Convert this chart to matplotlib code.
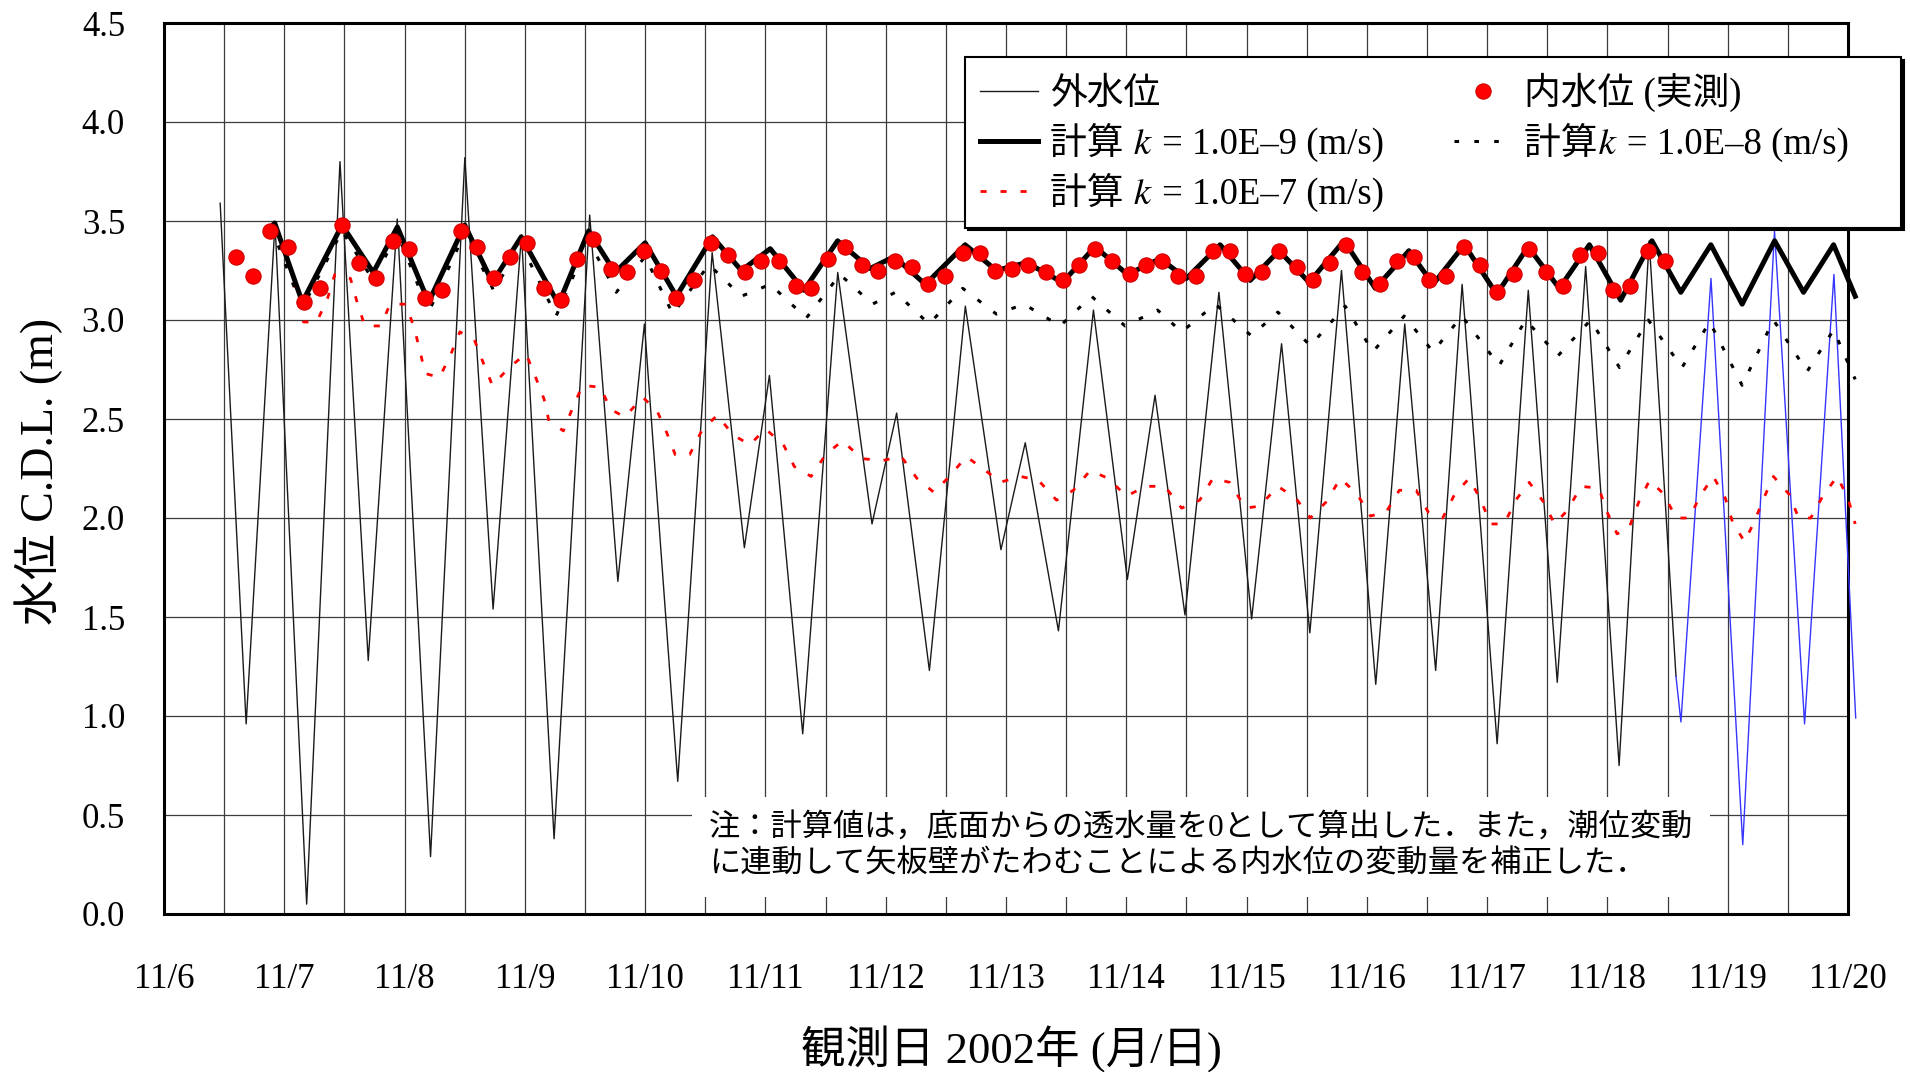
import matplotlib
matplotlib.use('Agg')
import matplotlib.pyplot as plt
import numpy as np

# 外水位 (tide outside the wall), extremes
tide_day = [6.467, 6.683, 6.923, 7.186, 7.463, 7.698, 7.939, 8.216, 8.501, 8.736,
            8.972, 9.243, 9.539, 9.773, 9.994, 10.271, 10.557, 10.825, 11.033, 11.310,
            11.601, 11.886, 12.091, 12.363, 12.662, 12.958, 13.16, 13.436, 13.727, 14.009,
            14.239, 14.488, 14.770, 15.042, 15.291, 15.526, 15.789, 16.074, 16.315, 16.572,
            16.792, 17.083, 17.342, 17.583, 17.819, 18.097, 18.347, 18.57]
tide_lv = [3.59, 0.96, 3.49, 0.05, 3.80, 1.28, 3.51, 0.29, 3.82, 1.54,
           3.43, 0.38, 3.53, 1.68, 2.98, 0.67, 3.34, 1.85, 2.72, 0.91,
           3.24, 1.97, 2.53, 1.23, 3.07, 1.84, 2.38, 1.43, 3.05, 1.69,
           2.62, 1.51, 3.14, 1.49, 2.88, 1.42, 3.25, 1.16, 2.98, 1.23,
           3.18, 0.86, 3.15, 1.17, 3.27, 0.75, 3.40, 1.20]

# last part of the tide record (drawn in blue)
tide2_day = [18.57, 18.611, 18.861, 19.125, 19.389, 19.639, 19.883, 20.064]
tide2_lv = [1.20, 0.97, 3.21, 0.35, 3.45, 0.96, 3.23, 0.99]

# 内水位 (実測)
obs_day = [6.60, 6.74, 6.88, 7.03, 7.16, 7.30, 7.48, 7.62, 7.76, 7.90,
           8.04, 8.17, 8.31, 8.47, 8.60, 8.74, 8.88, 9.02, 9.16, 9.30,
           9.43, 9.57, 9.72, 9.85, 9.99, 10.13, 10.26, 10.41, 10.55, 10.69,
           10.83, 10.96, 11.11, 11.25, 11.38, 11.52, 11.66, 11.80, 11.94, 12.08,
           12.22, 12.35, 12.49, 12.64, 12.78, 12.91, 13.05, 13.18, 13.33, 13.47,
           13.61, 13.74, 13.88, 14.03, 14.16, 14.30, 14.43, 14.58, 14.72, 14.86,
           14.99, 15.13, 15.27, 15.42, 15.55, 15.69, 15.83, 15.96, 16.11, 16.25,
           16.39, 16.52, 16.66, 16.81, 16.94, 17.08, 17.22, 17.35, 17.49, 17.63,
           17.77, 17.92, 18.05, 18.19, 18.34, 18.48]
obs_lv = [3.32, 3.22, 3.45, 3.37, 3.09, 3.16, 3.48, 3.29, 3.21, 3.40,
          3.36, 3.11, 3.15, 3.45, 3.37, 3.21, 3.32, 3.39, 3.16, 3.10,
          3.31, 3.41, 3.26, 3.24, 3.35, 3.25, 3.11, 3.20, 3.39, 3.33,
          3.24, 3.30, 3.30, 3.17, 3.16, 3.31, 3.37, 3.28, 3.25, 3.30,
          3.27, 3.18, 3.22, 3.34, 3.34, 3.25, 3.26, 3.28, 3.24, 3.20,
          3.28, 3.36, 3.30, 3.23, 3.28, 3.30, 3.22, 3.22, 3.35, 3.35,
          3.23, 3.24, 3.35, 3.27, 3.20, 3.29, 3.38, 3.24, 3.18, 3.30,
          3.32, 3.20, 3.22, 3.37, 3.28, 3.14, 3.23, 3.36, 3.24, 3.17,
          3.33, 3.34, 3.15, 3.17, 3.35, 3.30]

# 計算 k = 1.0E-9
calc9_day = [6.89, 6.92, 7.15, 7.48, 7.74, 7.94, 8.20, 8.50, 8.73, 8.97,
             9.28, 9.53, 9.75, 10.00, 10.26, 10.56, 10.80, 11.04, 11.32, 11.60,
             11.87, 12.07, 12.33, 12.66, 12.92, 13.17, 13.47, 13.74, 14.01, 14.28,
             14.50, 14.78, 15.03, 15.27, 15.52, 15.81, 16.07, 16.35, 16.55, 16.81,
             17.08, 17.34, 17.60, 17.85, 18.11, 18.37, 18.61, 18.86, 19.12, 19.39,
             19.63, 19.88, 20.06]
calc9_lv = [3.47, 3.49, 3.09, 3.48, 3.24, 3.47, 3.09, 3.48, 3.19, 3.42,
            3.08, 3.45, 3.24, 3.39, 3.12, 3.42, 3.25, 3.36, 3.15, 3.40,
            3.26, 3.32, 3.18, 3.38, 3.25, 3.29, 3.19, 3.37, 3.23, 3.31,
            3.21, 3.38, 3.20, 3.35, 3.19, 3.40, 3.16, 3.35, 3.18, 3.38,
            3.13, 3.37, 3.16, 3.38, 3.10, 3.40, 3.14, 3.38, 3.08, 3.40,
            3.14, 3.38, 3.12]

# 計算 k = 1.0E-8
calc8_day = [6.89, 7.15, 7.48, 7.74, 7.94, 8.20, 8.50, 8.74, 8.97, 9.26,
             9.53, 9.76, 10.00, 10.23, 10.53, 10.80, 11.04, 11.34, 11.62, 11.89,
             12.08, 12.36, 12.64, 12.92, 13.15, 13.45, 13.71, 13.99, 14.26, 14.46,
             14.74, 15.04, 15.26, 15.53, 15.82, 16.05, 16.31, 16.55, 16.79, 17.10,
             17.32, 17.59, 17.86, 18.10, 18.34, 18.62, 18.85, 19.12, 19.38, 19.66,
             19.88, 20.06]
calc8_lv = [3.47, 3.06, 3.45, 3.20, 3.44, 3.04, 3.44, 3.15, 3.38, 3.02,
            3.40, 3.14, 3.32, 3.03, 3.28, 3.12, 3.18, 3.01, 3.23, 3.08,
            3.14, 2.98, 3.16, 3.03, 3.08, 2.97, 3.12, 2.97, 3.05, 2.94,
            3.08, 2.92, 3.04, 2.87, 3.07, 2.84, 3.02, 2.84, 3.02, 2.77,
            3.00, 2.82, 3.00, 2.76, 3.00, 2.76, 2.99, 2.67, 3.00, 2.74,
            2.95, 2.70]

# 計算 k = 1.0E-7
calc7_day = [6.89, 7.07, 7.10, 7.16, 7.27, 7.36, 7.42, 7.55, 7.61, 7.67,
             7.80, 7.88, 8.01, 8.08, 8.13, 8.17, 8.29, 8.38, 8.46, 8.58,
             8.65, 8.73, 8.87, 9.01, 9.09, 9.16, 9.20, 9.32, 9.40, 9.48,
             9.63, 9.71, 9.83, 9.98, 10.10, 10.18, 10.25, 10.37, 10.47, 10.60,
             10.73, 10.87, 11.00, 11.15, 11.24, 11.38, 11.50, 11.64, 11.80, 11.97,
             12.13, 12.26, 12.40, 12.53, 12.67, 12.83, 12.95, 13.12, 13.27, 13.42,
             13.56, 13.70, 13.85, 14.00, 14.16, 14.32, 14.46, 14.61, 14.72, 14.86,
             14.99, 15.11, 15.26, 15.41, 15.53, 15.66, 15.78, 15.92, 16.03, 16.16,
             16.27, 16.41, 16.51, 16.63, 16.73, 16.85, 16.94, 17.03, 17.14, 17.25,
             17.35, 17.47, 17.56, 17.67, 17.78, 17.93, 17.99, 18.08, 18.18, 18.26,
             18.35, 18.47, 18.57, 18.68, 18.77, 18.88, 18.98, 19.04, 19.14, 19.22,
             19.30, 19.38, 19.51, 19.59, 19.69, 19.79, 19.91, 20.00, 20.06]
calc7_lv = [3.47, 3.24, 3.12, 2.99, 2.99, 3.11, 3.23, 3.21, 3.08, 2.97,
            2.97, 3.08, 3.08, 2.96, 2.84, 2.73, 2.71, 2.82, 2.94, 2.90,
            2.79, 2.67, 2.76, 2.83, 2.71, 2.60, 2.49, 2.44, 2.56, 2.67,
            2.66, 2.55, 2.51, 2.61, 2.54, 2.43, 2.32, 2.32, 2.44, 2.52,
            2.42, 2.37, 2.45, 2.37, 2.26, 2.21, 2.32, 2.39, 2.30, 2.29,
            2.31, 2.20, 2.13, 2.21, 2.31, 2.24, 2.18, 2.21, 2.19, 2.09,
            2.14, 2.24, 2.20, 2.11, 2.16, 2.16, 2.05, 2.09, 2.20, 2.18,
            2.05, 2.06, 2.16, 2.10, 2.00, 2.08, 2.20, 2.12, 2.01, 2.03,
            2.14, 2.14, 2.03, 2.00, 2.12, 2.20, 2.10, 1.97, 1.97, 2.10,
            2.18, 2.08, 1.97, 2.04, 2.16, 2.15, 2.04, 1.92, 1.95, 2.08,
            2.19, 2.12, 2.00, 2.00, 2.11, 2.21, 2.10, 1.98, 1.88, 1.98,
            2.10, 2.21, 2.12, 2.00, 2.00, 2.11, 2.21, 2.10, 1.97]

day_ticks = list(range(6, 21))
day_labels = ['11/%d' % d for d in day_ticks]
lv_ticks = [0.0, 0.5, 1.0, 1.5, 2.0, 2.5, 3.0, 3.5, 4.0, 4.5]

# italic k as the Unicode mathematical italic letter, so that the CJK fallback still works
k_it = '\U0001D458'
series_labels = ['外水位', '計算 ' + k_it + ' = 1.0E–9 (m/s)', '計算 ' + k_it + ' = 1.0E–7 (m/s)',
                 '内水位 (実測)', '計算' + k_it + ' = 1.0E–8 (m/s)\u3000']

note = ('注：計算値は，底面からの透水量を0として算出した．また，潮位変動\n'
        'に連動して矢板壁がたわむことによる内水位の変動量を補正した．')

plt.rcParams['font.family'] = ['Liberation Serif', 'Noto Sans CJK JP', 'STIXGeneral',
                               'DejaVu Serif', 'DejaVu Sans']

W, H = 1910, 1072
fig = plt.figure(figsize=(W / 100, H / 100), dpi=100)
ax = fig.add_axes([164 / W, 1 - 914 / H, (1848 - 164) / W, (914 - 23) / H])

l_tide, = ax.plot(tide_day, tide_lv, color='#1a1a1a', lw=1.0, zorder=3, clip_on=False)
ax.plot(tide2_day, tide2_lv, color='#3535ff', lw=1.0, zorder=3, clip_on=False)
l7, = ax.plot(calc7_day, calc7_lv, color='red', lw=2.0, ls=(0, (2.2, 5)), zorder=4, clip_on=False)
l8, = ax.plot(calc8_day, calc8_lv, color='black', lw=2.2, ls=(0, (1.5, 5)), zorder=4, clip_on=False)
l9, = ax.plot(calc9_day, calc9_lv, color='black', lw=3.6, zorder=5, clip_on=False,
              solid_joinstyle='round')
l_obs, = ax.plot(obs_day, obs_lv, 'o', color='red', ms=11, mec='#d00000', mew=0.8, zorder=6)

ax.set_xlim(6, 20)
ax.set_ylim(0, 4.5)
ax.set_xticks(day_ticks)
ax.set_xticklabels(day_labels)
ax.set_xticks(np.arange(6.5, 20, 1.0), minor=True)
ax.set_yticks(lv_ticks)
ax.set_yticklabels(['%.1f' % v for v in lv_ticks])
ax.tick_params(which='both', length=0)
ax.tick_params(axis='x', labelsize=25, pad=35)
ax.tick_params(axis='y', labelsize=25, pad=28)
ax.grid(which='both', color='#3c3c3c', lw=0.9)
ax.set_axisbelow(True)
for s in ax.spines.values():
    s.set_linewidth(2.2)
    s.set_color('black')

ax.text(10.53, 0.34, note, fontsize=22.5, ha='left', va='center', linespacing=1.3,
        zorder=2, bbox=dict(boxstyle='square,pad=0.55', facecolor='white', edgecolor='none'))

fig.text(39 / W, 1 - 471 / H, '水位 C.D.L. (m)', rotation=90, ha='center', va='center', fontsize=33)
fig.text(1011 / W, 1 - 1049 / H, '観測日 2002年 (月/日)', ha='center', va='center', fontsize=32)

handles = [l_tide, l9, l7, l_obs, l8]
leg = ax.legend(handles, series_labels, loc='upper left', bbox_to_anchor=(965 / W, 1 - 57 / H),
                bbox_transform=fig.transFigure, ncol=2, fontsize=26.5, frameon=True,
                fancybox=False, shadow={'color': 'black', 'alpha': 1.0},
                borderaxespad=0, borderpad=0.42, labelspacing=0.3, handlelength=1.55,
                handletextpad=0.35, columnspacing=1.9)
leg.get_frame().set_edgecolor('black')
leg.get_frame().set_linewidth(1.5)
leg.set_zorder(10)

fig.savefig('out.png', dpi=100)
